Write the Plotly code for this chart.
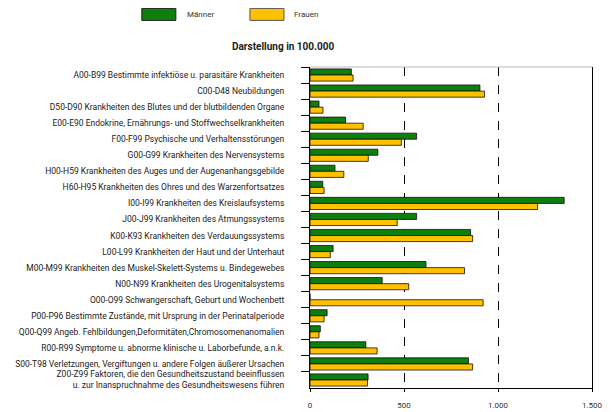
import plotly.graph_objects as go

categories = [
    "A00-B99 Bestimmte infektiöse u. parasitäre Krankheiten",
    "C00-D48 Neubildungen",
    "D50-D90 Krankheiten des Blutes und der blutbildenden Organe",
    "E00-E90 Endokrine, Ernährungs- und Stoffwechselkrankheiten",
    "F00-F99 Psychische und Verhaltensstörungen",
    "G00-G99 Krankheiten des Nervensystems",
    "H00-H59 Krankheiten des Auges und der Augenanhangsgebilde",
    "H60-H95 Krankheiten des Ohres und des Warzenfortsatzes",
    "I00-I99 Krankheiten des Kreislaufsystems",
    "J00-J99 Krankheiten des Atmungssystems",
    "K00-K93 Krankheiten des Verdauungssystems",
    "L00-L99 Krankheiten der Haut und der Unterhaut",
    "M00-M99 Krankheiten des Muskel-Skelett-Systems u. Bindegewebes",
    "N00-N99 Krankheiten des Urogenitalsystems",
    "O00-O99 Schwangerschaft, Geburt und Wochenbett",
    "P00-P96 Bestimmte Zustände, mit Ursprung in der Perinatalperiode",
    "Q00-Q99 Angeb. Fehlbildungen,Deformitäten,Chromosomenanomalien",
    "R00-R99 Symptome u. abnorme klinische u. Laborbefunde, a.n.k.",
    "S00-T98 Verletzungen, Vergiftungen u. andere Folgen äußerer Ursachen",
    "Z00-Z99 Faktoren, die den Gesundheitszustand beeinflussen<br>u. zur Inanspruchnahme des Gesundheitswesens führen",
]

maenner = [220, 904, 48, 189, 567, 361, 133, 68, 1352, 567, 854, 123, 617, 384, 0, 91, 55, 297, 843, 309]
frauen = [229, 928, 69, 283, 486, 310, 180, 75, 1211, 464, 865, 108, 822, 525, 921, 75, 48, 357, 865, 306]

x_tickvals = [0, 500, 1000, 1500]
x_ticktext = ["0", "500", "1.000", "1.500"]

GREEN = "#0E7E0E"
YELLOW = "#FFC000"
FONT = "Roboto"

fig = go.Figure()
fig.add_trace(go.Bar(y=categories, x=maenner, orientation="h", name="Männer",
                     marker=dict(color=GREEN, line=dict(color="#111", width=0.8)),
                     showlegend=False))
fig.add_trace(go.Bar(y=categories, x=frauen, orientation="h", name="Frauen",
                     marker=dict(color=YELLOW, line=dict(color="#111", width=0.8)),
                     showlegend=False))

# page body has an 8px margin; figure is placed at (8, 8) in the window
OFF = 8
FW, FH = 612 - OFF, 412 - OFF
# plot area geometry in window pixels
L, R, T, B = 310, 591.7, 66.7, 388.3
W, H = R - L, B - T
def px(x):
    return (x - L) / W
def py(y):
    return (B - y) / H

shapes = [
    dict(type="line", xref="paper", yref="paper", x0=0, x1=1, y0=1, y1=1,
         line=dict(color="#bbbbbb", width=1)),
    dict(type="rect", xref="paper", yref="paper", x0=px(142), x1=px(176), y0=py(20), y1=py(8),
         fillcolor=GREEN, line=dict(color="#222", width=1)),
    dict(type="rect", xref="paper", yref="paper", x0=px(250), x1=px(284), y0=py(20), y1=py(8),
         fillcolor=YELLOW, line=dict(color="#555", width=1)),
]
annotations = [
    dict(text="Männer", xref="paper", yref="paper", x=px(185), y=py(14), xanchor="left",
         yanchor="middle", showarrow=False, font=dict(family=FONT, size=8, color="#333")),
    dict(text="Frauen", xref="paper", yref="paper", x=px(292), y=py(14), xanchor="left",
         yanchor="middle", showarrow=False, font=dict(family=FONT, size=8, color="#333")),
    dict(text="<b>Darstellung in 100.000</b>", xref="paper", yref="paper", x=px(283), y=py(46),
         xanchor="center", yanchor="middle", showarrow=False,
         font=dict(family=FONT, size=10, color="#222")),
]

fig.update_layout(
    width=FW, height=FH,
    margin=dict(l=L - OFF, r=612 - R, t=T - OFF, b=412 - B, pad=0, autoexpand=False),
    paper_bgcolor="white", plot_bgcolor="white",
    barmode="group", bargap=0.24, bargroupgap=0,
    font=dict(family=FONT, size=8.5, color="#222"),
    shapes=shapes, annotations=annotations,
    xaxis=dict(range=[0, 1500], tickvals=x_tickvals, ticktext=x_ticktext,
               showgrid=True, gridcolor="black", griddash="dash", gridwidth=1,
               showline=True, linecolor="black", linewidth=1,
               ticks="outside", ticklen=3, tickcolor="black",
               ticklabelstandoff=6, zeroline=False, automargin=False,
               tickfont=dict(family=FONT, size=8, color="#333")),
    yaxis=dict(autorange="reversed", showline=True, linecolor="black", linewidth=1,
               mirror=True, ticks="outside", tickson="boundaries", ticklen=8,
               tickcolor="black", showgrid=False, ticklabelstandoff=23, automargin=False,
               tickfont=dict(family=FONT, size=8.5, color="#222")),
)

fig.write_html("out.html")
